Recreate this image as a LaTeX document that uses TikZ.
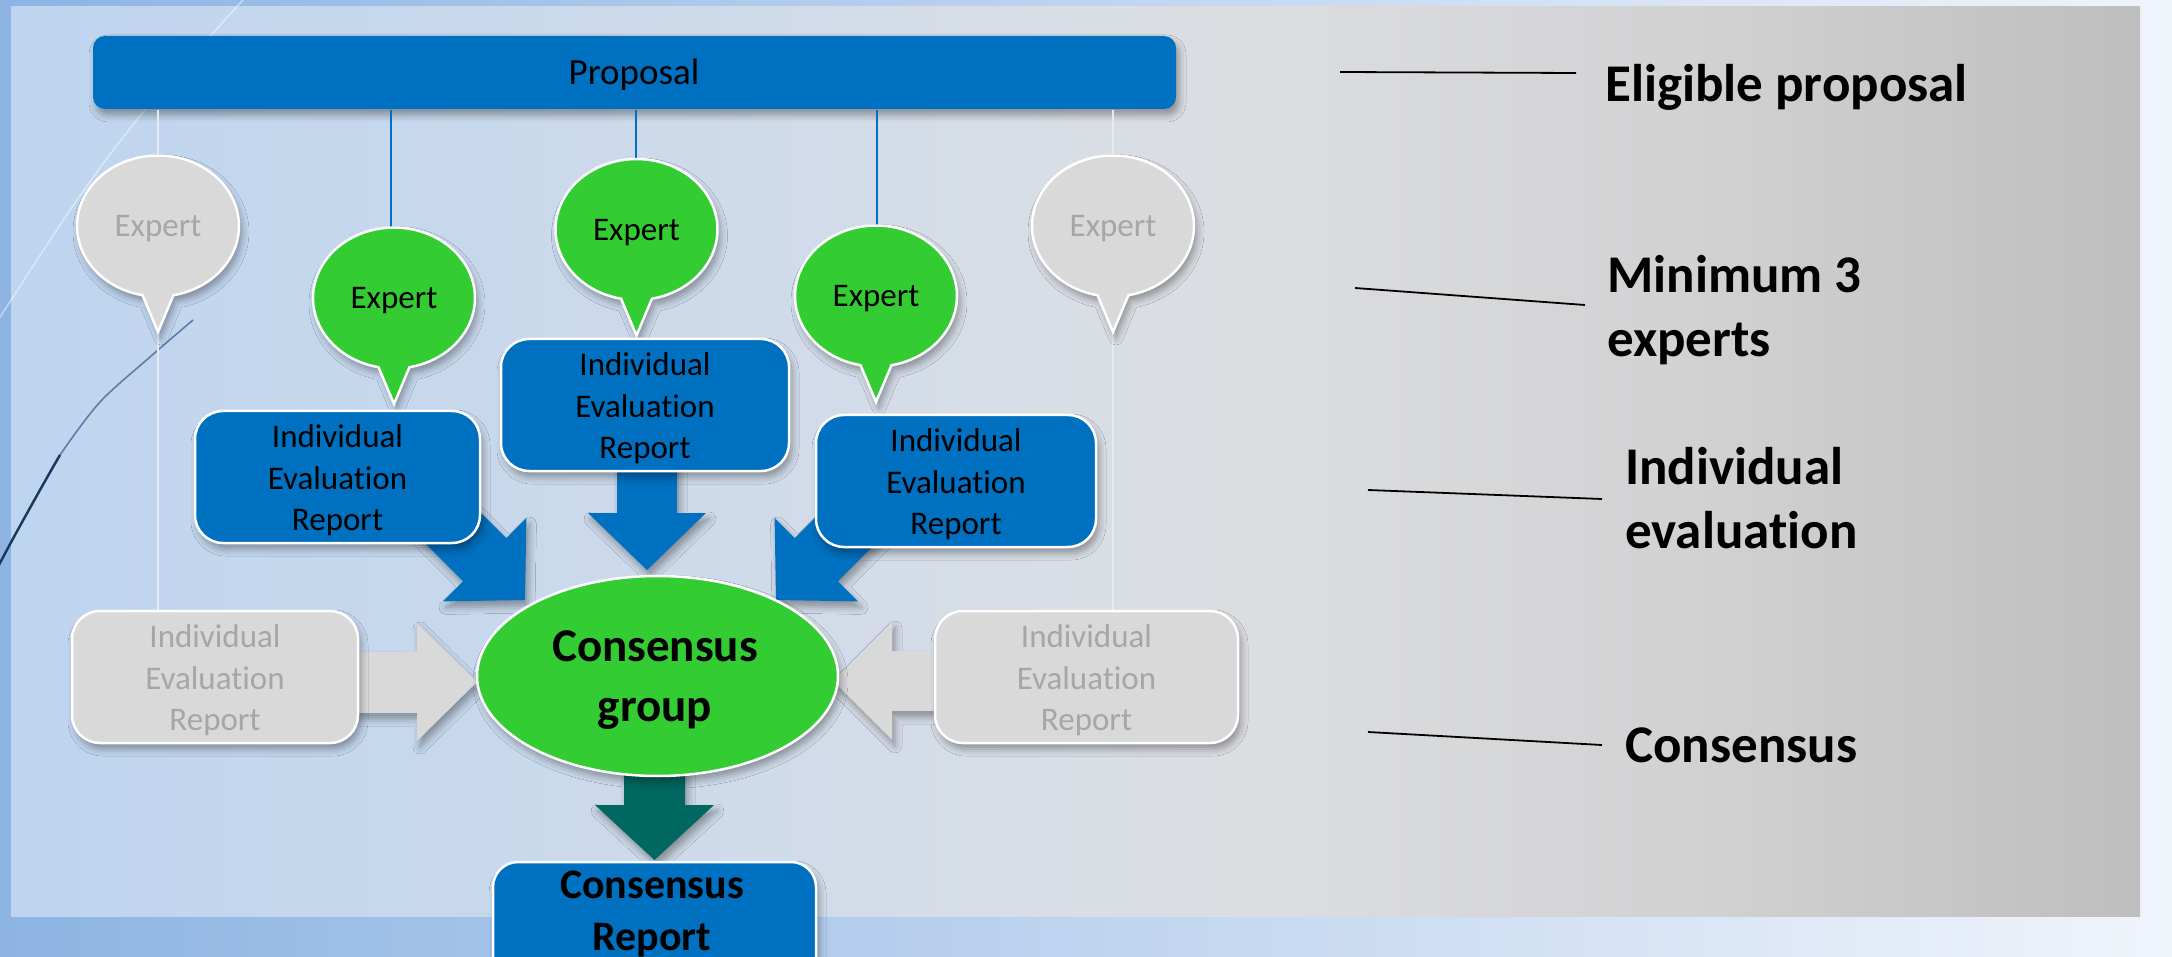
\documentclass[tikz,border=0pt]{standalone}
\usepackage{fontspec}
\setmainfont{Carlito}[Ligatures=NoCommon]
\usetikzlibrary{shapes.geometric,shadows.blur,calc}
\definecolor{cblue}{RGB}{0,112,192}
\definecolor{cgreen}{RGB}{51,204,51}
\definecolor{cgray}{RGB}{217,217,217}
\definecolor{cgraytext}{RGB}{166,166,166}
\definecolor{cteal}{RGB}{0,104,96}
\definecolor{bgleft}{RGB}{141,180,227}
\definecolor{bgright}{RGB}{240,244,251}
\definecolor{glline}{RGB}{228,235,245}
\definecolor{decomid}{RGB}{95,125,165}
\definecolor{decodark}{RGB}{25,55,95}
\pgfdeclarehorizontalshading{panelshade}{100bp}{rgb(0bp)=(0.745,0.835,0.937); rgb(25bp)=(0.745,0.835,0.937); rgb(37.5bp)=(0.79,0.85,0.925); rgb(50bp)=(0.85,0.87,0.90); rgb(55bp)=(0.86,0.865,0.876); rgb(65bp)=(0.82,0.82,0.825); rgb(75bp)=(0.745,0.745,0.745); rgb(100bp)=(0.745,0.745,0.745)}
\newcommand\ierstrut{\rule{0pt}{30pt}}
\newcommand\speech[6]{%
  \path[bubble,fill=#4] plot[domain=101:439,samples=90,variable=\t] ({#2+81*cos(\t)},{#3+70.5*sin(\t)}) -- (#2,#3+106) -- cycle;
  \node[font=\fontsize{33}{40}\selectfont,text=#5,inner sep=0pt] (#1) at (#2,#3+3) {#6};
}
\begin{document}
\begin{tikzpicture}[x=1pt,y=-1pt,
  shadowed/.style={blur shadow={shadow xshift=3pt,shadow yshift=-6pt,shadow blur radius=7pt,shadow opacity=35}},
  boxbase/.style={draw=white,line width=2.5pt,rounded corners=28pt,inner sep=0pt,align=center,shadowed},
  bluebox/.style={boxbase,fill=cblue,text=black,font=\fontsize{33}{41.5}\selectfont},
  graybox/.style={boxbase,fill=cgray,text=cgraytext,font=\fontsize{33}{41.5}\selectfont},
  bubble/.style={draw=white,line width=2.5pt,shadowed},
  barrow/.style={shadowed},
  sidelabel/.style={font=\fontsize{53}{64}\selectfont\bfseries,inner sep=0pt,text=black,align=left},
  guide/.style={black,line width=1.8pt},
  stem/.style={cblue,line width=2pt},
  graystem/.style={glline,line width=2pt}
]
\useasboundingbox (0,0) rectangle (2172,957);
\clip (0,0) rectangle (2172,957);

% backgrounds
\fill[left color=bgleft,right color=bgright] (0,0) rectangle (2172,957);
\shade[shading=panelshade] (11,7) rectangle (2140,916);
\draw[white,opacity=0.45,line width=1.5pt] plot[smooth] coordinates {(252,-10) (145,110) (77,200) (0,317) (-8,330)};
\draw[decomid,line width=1.6pt] plot[smooth] coordinates {(193,320) (150,357) (100,402) (60,455) (40,490) (15,535) (0,563) (-6,575)};
\draw[decodark,line width=2.4pt] plot[smooth] coordinates {(60,455) (40,490) (15,535) (0,563) (-6,575)};

% dummy shadow outside the page (first blur shadow primes the fading)
\path[barrow,fill=cblue] (-400,-400) rectangle (-300,-300);

% proposal
\node[boxbase,draw=none,rounded corners=12pt,fill=cblue,minimum width=1083pt,minimum height=73pt] (prop) at (634.5,72.5) {};
\node[font=\fontsize{37}{44}\selectfont,inner sep=0pt,anchor=base] (proptext) at (634,85) {Proposal};

% anchor points of the stems
\coordinate (eg1top) at (158,155.5);
\coordinate (e1top) at (391,228);
\coordinate (e2top) at (636,159);
\coordinate (e3top) at (877,226);
\coordinate (eg2top) at (1113,155.5);
\coordinate (gier1top) at (158,611);
\coordinate (gier2top) at (1113,611);

% stems from the proposal
\draw[graystem] (prop.south -| eg1top) -- (gier1top);
\draw[graystem] (prop.south -| eg2top) -- (gier2top);
\draw[stem] (prop.south -| e1top) -- (e1top);
\draw[stem] (prop.south -| e2top) -- (e2top);
\draw[stem] (prop.south -| e3top) -- (e3top);

% block arrows (behind the boxes)
\path[barrow,fill=cblue] (617,450) -- (677,450) -- (677,513) -- (706,513) -- (647,570) -- (588,513) -- (617,513) -- cycle;
\path[barrow,fill=cblue] (421.6,453.4) -- (506.3,538.1) -- (526.4,518) -- (525,600) -- (443,601.4) -- (463.1,581.3) -- (378.4,496.6) -- cycle;
\path[barrow,fill=cblue] (879.4,453.4) -- (794.7,538.1) -- (774.6,518) -- (776,600) -- (858,601.4) -- (837.9,581.3) -- (922.6,496.6) -- cycle;
\path[barrow,fill=cgray] (340,652) -- (417,652) -- (417,623) -- (477,682) -- (417,741) -- (417,713) -- (340,713) -- cycle;
\path[barrow,fill=cgray] (950,651) -- (892,651) -- (892,622) -- (833,681) -- (892,740) -- (892,711) -- (950,711) -- cycle;
\path[barrow,fill=cteal] (624,760) -- (685,760) -- (685,805) -- (714,805) -- (654.5,860) -- (595,805) -- (624,805) -- cycle;

% experts
\speech{eg1}{158}{226}{cgray}{cgraytext}{Expert}
\speech{e1}{394}{298}{cgreen}{black}{Expert}
\speech{e2}{636.5}{229.5}{cgreen}{black}{Expert}
\speech{e3}{876}{296}{cgreen}{black}{Expert}
\speech{eg2}{1113}{226}{cgray}{cgraytext}{Expert}

% individual evaluation reports
\node[bluebox,minimum width=285pt,minimum height=132pt] (ier1) at (337.5,477) {\ierstrut Individual\\Evaluation\\Report};
\node[bluebox,minimum width=288pt,minimum height=132pt] (ier2) at (645,405) {\ierstrut Individual\\Evaluation\\Report};
\node[bluebox,minimum width=280pt,minimum height=132pt] (ier3) at (956,481) {\ierstrut Individual\\Evaluation\\Report};
\node[graybox,minimum width=286pt,minimum height=132pt] (gier1) at (215,677) {\ierstrut Individual\\Evaluation\\Report};
\node[graybox,minimum width=303pt,minimum height=132pt] (gier2) at (1086.5,677) {\ierstrut Individual\\Evaluation\\Report};

% consensus group
\node[ellipse,draw=white,line width=2.5pt,fill=cgreen,minimum width=361pt,minimum height=200pt,inner sep=0pt,shadowed] (cg) at (657.5,676) {};
\node[font=\fontsize{47}{60}\selectfont\bfseries,align=center,inner sep=0pt] (cgtext) at (655,680) {Consensus\\group};

% consensus report
\node[boxbase,rounded corners=25pt,fill=cblue,minimum width=323pt,minimum height=120pt] (crep) at (654.5,922) {};
\node[font=\fontsize{42}{52}\selectfont\bfseries,align=center,inner sep=0pt] (creptext) at (652,914) {Consensus\\Report};

% right-hand labels
\coordinate (l1a) at (1340,72);  \coordinate (l1b) at (1576,73);
\coordinate (l2a) at (1355,288); \coordinate (l2b) at (1585,305);
\coordinate (l3a) at (1368,490); \coordinate (l3b) at (1602,499);
\coordinate (l4a) at (1368,732); \coordinate (l4b) at (1602,745);
\draw[guide] (l1a) -- (l1b);
\draw[guide] (l2a) -- (l2b);
\draw[guide] (l3a) -- (l3b);
\draw[guide] (l4a) -- (l4b);
\node[sidelabel,anchor=base west] (lab1) at (1605,102) {Eligible proposal};
\node[sidelabel,anchor=west] (lab2) at (1607,310) {Minimum 3\\experts};
\node[sidelabel,anchor=west] (lab3) at (1625,498) {Individual\\evaluation};
\node[sidelabel,anchor=base west] (lab4) at (1625,762) {Consensus};
\end{tikzpicture}
\end{document}
